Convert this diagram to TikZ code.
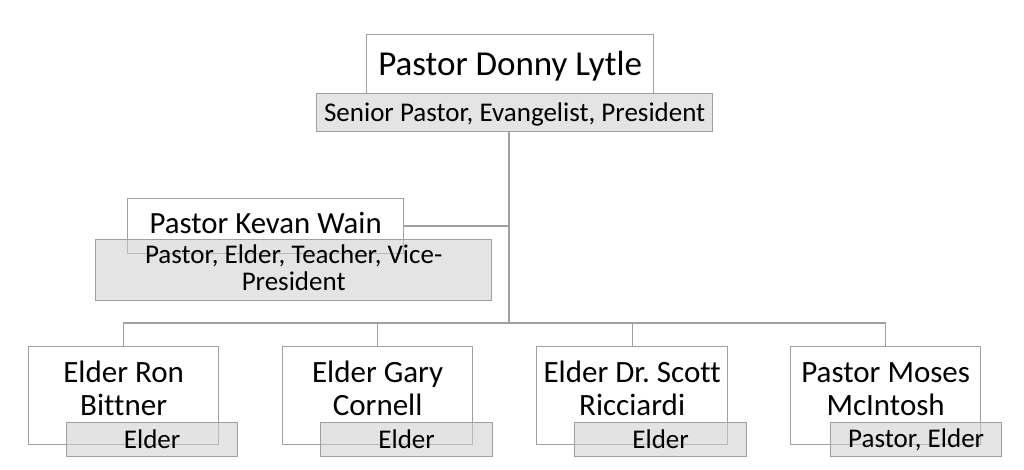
\documentclass[tikz,border=0pt]{standalone}
\usepackage{fontspec}
\setmainfont{Carlito}[Ligatures={NoCommon}]
\frenchspacing
\definecolor{boxline}{RGB}{160,160,160}
\definecolor{rolefill}{RGB}{205,205,205}
\begin{document}
\begin{tikzpicture}[x=1pt,y=-1pt,
  namebox/.style={draw=boxline,line width=1.3pt,fill=white,inner sep=0pt,anchor=north west},
  rolebox/.style={draw=boxline,line width=1.3pt,fill=rolefill,fill opacity=0.55,draw opacity=1,text opacity=1,inner sep=0pt,anchor=north west,align=center},
  conn/.style={draw=boxline,line width=1.3pt},
  bigname/.style={font=\fontsize{35}{40}\selectfont},
  midname/.style={font=\fontsize{30.8}{34}\selectfont},
  smallname/.style={font=\fontsize{31}{33}\selectfont,align=center},
  roletext/.style={font=\fontsize{27}{27}\selectfont,align=center},
]
\useasboundingbox (0,0) rectangle (1024,470);
% top
\node[namebox,minimum width=287pt,minimum height=59pt] (n0) at (366,34) {};
\node[bigname] (t0) at ([yshift=-2pt]n0.center) {Pastor Donny Lytle};
\node[rolebox,minimum width=396pt,minimum height=38pt] (r0) at (316,93) {};
\node[roletext] (s0) at ([yshift=-1.5pt]r0.center) {Senior Pastor, Evangelist, President};
% Kevan
\node[namebox,minimum width=276pt,minimum height=55pt] (n1) at (127,198) {};
\node[midname] (t1) at ([yshift=3pt]n1.center) {Pastor Kevan Wain};
\node[rolebox,minimum width=396pt,minimum height=61pt] (r1) at (95,239) {};
\node[roletext] (s1) at ([yshift=2pt]r1.center) {Pastor, Elder, Teacher, Vice-\\President};
% bottom
\node[namebox,minimum width=190pt,minimum height=98pt] (n2) at (28,346) {};
\node[namebox,minimum width=190pt,minimum height=98pt] (n3) at (282,346) {};
\node[namebox,minimum width=191pt,minimum height=98pt] (n4) at (536,346) {};
\node[namebox,minimum width=190pt,minimum height=98pt] (n5) at (790,346) {};
\node[smallname] (t2) at ([yshift=7pt]n2.center) {Elder Ron\\Bittner};
\node[smallname] (t3) at ([yshift=7pt]n3.center) {Elder Gary\\Cornell};
\node[smallname] (t4) at ([yshift=7pt]n4.center) {Elder Dr. Scott\\Ricciardi};
\node[smallname] (t5) at ([yshift=7pt]n5.center) {\vphantom{d}Pastor Moses\\McIntosh};
\node[rolebox,minimum width=171pt,minimum height=34pt,roletext] (r2) at (66,422) {Elder};
\node[rolebox,minimum width=172pt,minimum height=34pt,roletext] (r3) at (320,422) {Elder};
\node[rolebox,minimum width=172pt,minimum height=34pt,roletext] (r4) at (574,422) {Elder};
\node[rolebox,minimum width=171pt,minimum height=34pt,roletext] (r5) at (830,422) {Pastor, Elder};
% connectors
\coordinate (bus) at (509,323);
\draw[conn] (r0.south -| bus) -- (bus);
\draw[conn] (n1.east) -- (n1.east -| bus);
\draw[conn] (n2.north) |- (n5.north |- bus) -- (n5.north);
\draw[conn] (n3.north) -- (n3.north |- bus);
\draw[conn] (n4.north) -- (n4.north |- bus);
\end{tikzpicture}
\end{document}
